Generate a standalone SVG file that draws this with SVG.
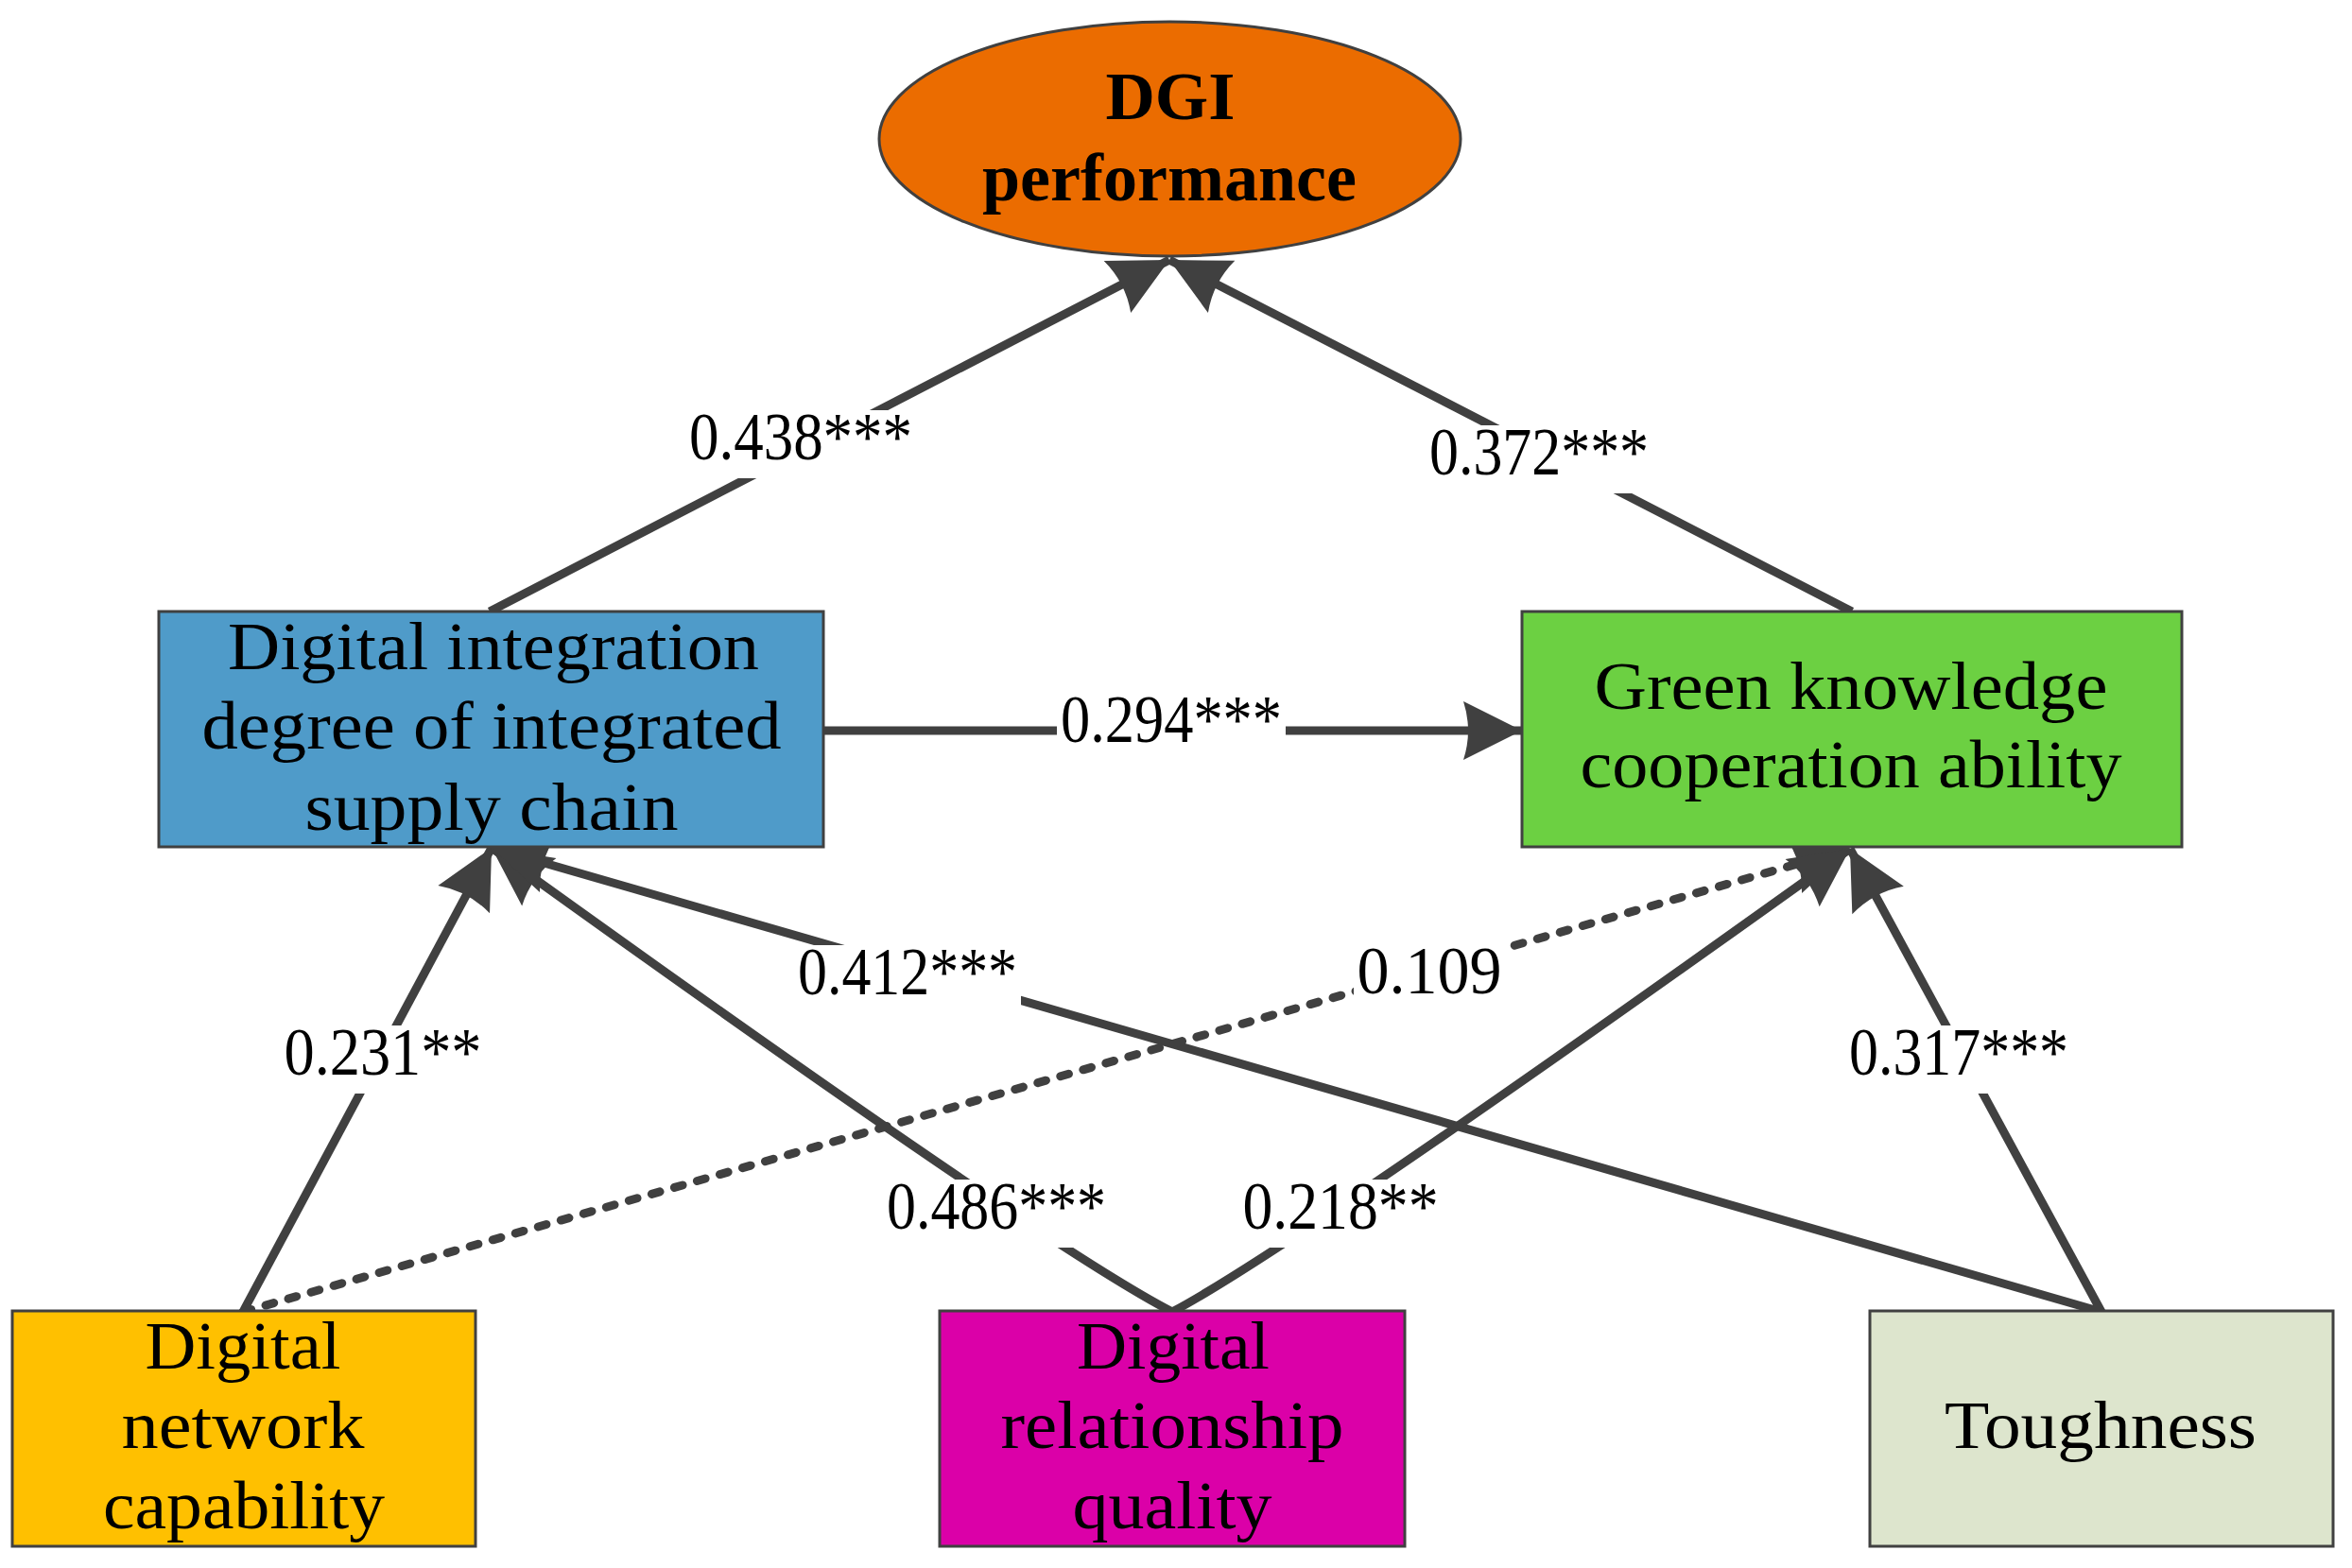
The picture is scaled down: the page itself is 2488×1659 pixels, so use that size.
<svg xmlns="http://www.w3.org/2000/svg" width="2488" height="1659" viewBox="0 0 2488 1659">
<style>
.bg{fill:#ffffff}
.node{stroke:#404040;stroke-width:3}
.t{font-family:"Liberation Serif","Times New Roman",serif;font-size:72px;fill:#000000;text-anchor:middle}
.tb{font-family:"Liberation Serif","Times New Roman",serif;font-size:72px;font-weight:bold;fill:#000000;text-anchor:middle}
.lbl{font-family:"Liberation Serif","Times New Roman",serif;font-size:72px;fill:#000000;text-anchor:middle}
.lb{fill:#ffffff}
.c{fill:none;stroke:#404040;stroke-width:9;marker-end:url(#ah)}
.d{fill:none;stroke:#404040;stroke-width:9;stroke-dasharray:9 16;stroke-linecap:round;marker-end:url(#ah)}
</style>
<defs>
<marker id="ah" markerUnits="userSpaceOnUse" orient="auto" viewBox="-70 -36 76 72" markerWidth="76" markerHeight="72" refX="0" refY="0">
<path d="M0,0 L-62,-31 Q-52,0 -62,31 Z" fill="#404040"/>
</marker>
</defs>
<rect class="bg" x="0" y="0" width="2488" height="1659"/>
<g id="connectors">
<path id="e-438" class="c" d="M518,647 L1237,275"/>
<path id="e-372" class="c" d="M1959,647 L1237,275"/>
<path id="e-294" class="c" d="M871,773 L1610,773"/>
<path id="e-231" class="c" d="M257,1388 L520,897"/>
<path id="e-486" class="c" d="M1240,1388 Q1106,1319 520,897"/>
<path id="e-412" class="c" d="M2223,1388 L520,897"/>
<path id="e-109" class="d" d="M257,1388 L1957,898"/>
<path id="e-218" class="c" d="M1240,1388 Q1367,1321 1957,898"/>
<path id="e-317" class="c" d="M2223,1388 L1957,898"/>
<g id="labels">
<rect class="lb" x="724" y="434" width="245" height="72"/>
<text class="lbl" x="847" y="486" textLength="236" lengthAdjust="spacingAndGlyphs">0.438***</text>
<rect class="lb" x="1508" y="450" width="240" height="72"/>
<text class="lbl" x="1628" y="502" textLength="232" lengthAdjust="spacingAndGlyphs">0.372***</text>
<rect class="lb" x="1118" y="733" width="242" height="72"/>
<text class="lbl" x="1239" y="785" textLength="234" lengthAdjust="spacingAndGlyphs">0.294***</text>
<rect class="lb" x="297" y="1085" width="217" height="72"/>
<text class="lbl" x="405" y="1137" textLength="209" lengthAdjust="spacingAndGlyphs">0.231**</text>
<rect class="lb" x="840" y="1000" width="240" height="72"/>
<text class="lbl" x="960" y="1052" textLength="232" lengthAdjust="spacingAndGlyphs">0.412***</text>
<rect class="lb" x="1432" y="999" width="161" height="72"/>
<text class="lbl" x="1512" y="1051" textLength="153" lengthAdjust="spacingAndGlyphs">0.109</text>
<rect class="lb" x="934" y="1248" width="240" height="72"/>
<text class="lbl" x="1054" y="1300" textLength="232" lengthAdjust="spacingAndGlyphs">0.486***</text>
<rect class="lb" x="1311" y="1248" width="215" height="72"/>
<text class="lbl" x="1418" y="1300" textLength="207" lengthAdjust="spacingAndGlyphs">0.218**</text>
<rect class="lb" x="1952" y="1085" width="240" height="72"/>
<text class="lbl" x="2072" y="1137" textLength="232" lengthAdjust="spacingAndGlyphs">0.317***</text>
</g>
</g>
<g id="dgi-performance">
<ellipse class="node" cx="1237.5" cy="147" rx="307.5" ry="124" fill="#EB6C00" stroke-width="2.5"/>
<text class="tb" x="1238" y="126" textLength="137" lengthAdjust="spacingAndGlyphs">DGI</text>
<text class="tb" x="1237" y="212" textLength="396" lengthAdjust="spacingAndGlyphs">performance</text>
</g>
<g id="digital-integration">
<rect class="node" x="168" y="647" width="703" height="249" fill="#4F9BC9"/>
<text class="t" x="522" y="708" textLength="562" lengthAdjust="spacingAndGlyphs">Digital integration</text>
<text class="t" x="520" y="792" textLength="613" lengthAdjust="spacingAndGlyphs">degree of integrated</text>
<text class="t" x="520" y="878" textLength="395" lengthAdjust="spacingAndGlyphs">supply chain</text>
</g>
<g id="green-knowledge">
<rect class="node" x="1610" y="647" width="698" height="249" fill="#6CD042"/>
<text class="t" x="1958" y="750" textLength="543" lengthAdjust="spacingAndGlyphs">Green knowledge</text>
<text class="t" x="1958" y="833" textLength="573" lengthAdjust="spacingAndGlyphs">cooperation ability</text>
</g>
<g id="digital-network">
<rect class="node" x="13" y="1387" width="490" height="249" fill="#FFC000"/>
<text class="t" x="257" y="1448" textLength="207" lengthAdjust="spacingAndGlyphs">Digital</text>
<text class="t" x="257" y="1532" textLength="257" lengthAdjust="spacingAndGlyphs">network</text>
<text class="t" x="258" y="1617" textLength="298" lengthAdjust="spacingAndGlyphs">capability</text>
</g>
<g id="digital-relationship">
<rect class="node" x="994" y="1387" width="492" height="249" fill="#DB00A8"/>
<text class="t" x="1241" y="1448" textLength="204" lengthAdjust="spacingAndGlyphs">Digital</text>
<text class="t" x="1240" y="1532" textLength="363" lengthAdjust="spacingAndGlyphs">relationship</text>
<text class="t" x="1240" y="1617" textLength="211" lengthAdjust="spacingAndGlyphs">quality</text>
</g>
<g id="toughness">
<rect class="node" x="1978" y="1387" width="490" height="249" fill="#DDE5CD"/>
<text class="t" x="2222" y="1532" textLength="330" lengthAdjust="spacingAndGlyphs">Toughness</text>
</g>
</svg>
